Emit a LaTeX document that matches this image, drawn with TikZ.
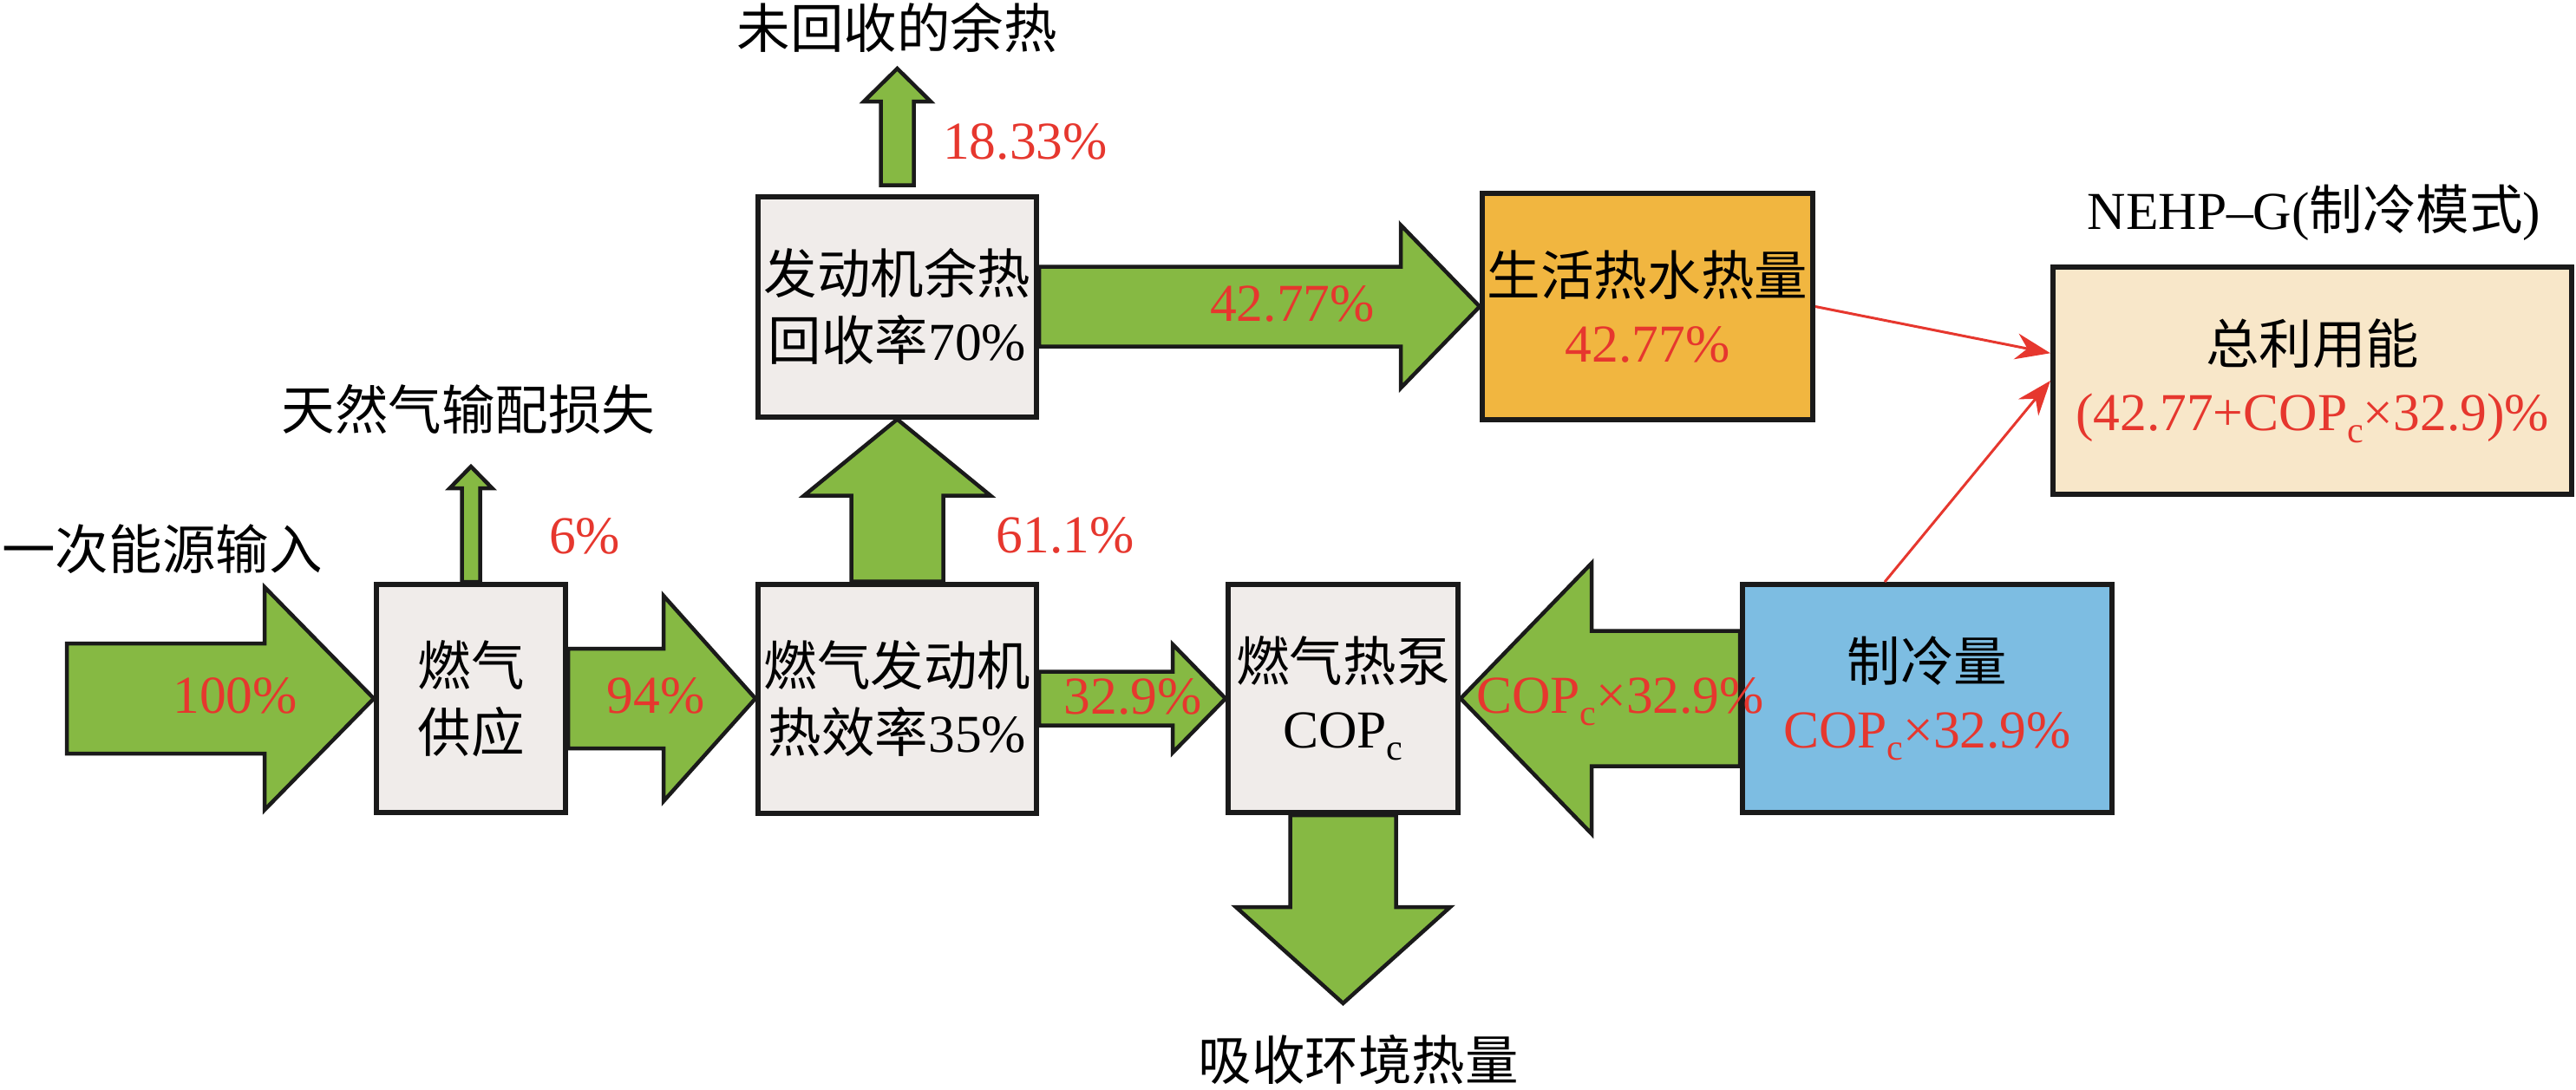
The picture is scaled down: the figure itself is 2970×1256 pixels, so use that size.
\documentclass[tikz,border=0pt]{standalone}
\usepackage{fontspec}
\setmainfont{Liberation Serif}
\newfontfamily\cjk{Noto Sans CJK SC}
\usepackage{xcolor}
\definecolor{flowGreen}{HTML}{86B943}
\definecolor{boxGray}{HTML}{F0ECEA}
\definecolor{boxLine}{HTML}{1A1A1A}
\definecolor{hotOrange}{HTML}{F1B640}
\definecolor{coolBlue}{HTML}{7DBDE2}
\definecolor{sumBeige}{HTML}{F8E7C9}
\definecolor{pctRed}{HTML}{E6372E}
\usepackage{tikz}
\usetikzlibrary{arrows.meta,positioning,calc,backgrounds}

\newcommand{\bodysize}{\fontsize{17.5}{22}\selectfont}
\newcommand{\copc}{COP\raisebox{-4pt}{\fontsize{12}{12}\selectfont c}}
% block arrow: from, to, shaft half width, head half width, head length
\newcommand{\flowarrow}[5]{%
    \coordinate (fa-base) at ($(#2)!#5!(#1)$);
    \draw[flow] ($(#1)!#3!90:(#2)$) -- ($(fa-base)!#3!90:(#2)$)
        -- ($(fa-base)!#4!90:(#2)$) -- (#2) -- ($(fa-base)!#4!-90:(#2)$)
        -- ($(fa-base)!#3!-90:(#2)$) -- ($(#1)!#3!-90:(#2)$) -- cycle;
}

\tikzset{
    flowbox/.style={
        draw=boxLine,
        fill=boxGray,
        rectangle,
        line width=0.6mm,
        align=center,
        inner sep=0pt,
        font=\bodysize
    },
    flow/.style={
        draw=boxLine,
        fill=flowGreen,
        line width=0.45mm,
        line join=miter
    },
    sumline/.style={
        -{Stealth[length=4mm,width=3mm]},
        line width=0.3mm,
        color=pctRed
    },
    pct/.style={
        font=\bodysize,
        text=pctRed,
        inner sep=0pt,
        anchor=base
    },
    caption/.style={
        font=\bodysize,
        inner sep=0pt
    }
}

\begin{document}
\begin{tikzpicture}[x=0.1mm, y=-0.1mm]
    \useasboundingbox (0,0) rectangle (2970,1256);

    % Gas engine chain
    \node[flowbox, minimum width=21.8mm, minimum height=26.3mm] (gas) at (543,805.5)
        {{\cjk 燃气}\\{\cjk 供应}};
    \node[flowbox, minimum width=32.1mm, minimum height=26.4mm, right=21.6mm of gas]
        (engine) {{\cjk 燃气发动机}\\{\cjk 热效率}35\%};
    \node[flowbox, minimum width=32.1mm, minimum height=25.4mm, above=18.7mm of engine]
        (waste) {{\cjk 发动机余热}\\{\cjk 回收率}70\%};
    \node[flowbox, minimum width=26.5mm, minimum height=26.3mm, right=21.5mm of engine]
        (heatpump) {{\cjk 燃气热泵}\\\copc};

    % Useful outputs
    \node[flowbox, fill=hotOrange, minimum width=38.1mm, minimum height=26.1mm,
        right=50.8mm of waste] (hotwater) {{\cjk 生活热水热量}\\{\color{pctRed}42.77\%}};
    \node[flowbox, fill=coolBlue, minimum width=42.6mm, minimum height=26.3mm,
        right=32.2mm of heatpump] (cooling) {{\cjk 制冷量}\\{\color{pctRed}\copc×32.9\%}};
    \node[flowbox, fill=sumBeige, minimum width=59.8mm, minimum height=26.2mm] (total)
        at (2666,439) {{\cjk 总利用能}\\{\color{pctRed}(42.77+\copc×32.9)\%}};

    % Captions
    \node[caption] (inputText) at (187,633) {\cjk 一次能源输入};
    \node[caption] (lossText) at (540,472) {\cjk 天然气输配损失};
    \node[caption] (ventText) at (1034,32) {\cjk 未回收的余热};
    \node[caption] (modeText) at (2668,245) {NEHP--G({\cjk 制冷模式})};
    \node[caption] (ambientText) at (1566,1222) {\cjk 吸收环境热量};

    % Free ends
    \coordinate (inputTail) at (77,805.5);
    \coordinate (lossTip) at (543,538);
    \coordinate (ventTail) at ($(waste.north)+(0,-10)$);
    \coordinate (ventTip) at (1034.5,79);
    \coordinate (ambientTip) at (1548.5,1157);

    % Energy flows
    \begin{pgfonlayer}{background}
        \flowarrow{inputTail}{gas.west}{6.35mm}{12.85mm}{12.6mm}
        \flowarrow{gas.east}{engine.west}{5.75mm}{11.85mm}{10.6mm}
        \flowarrow{gas.north}{lossTip}{1.05mm}{2.45mm}{2.5mm}
        \flowarrow{engine.east}{heatpump.west}{3.1mm}{6.25mm}{6.1mm}
        \flowarrow{engine.north}{waste.south}{5.3mm}{10.75mm}{8.8mm}
        \flowarrow{ventTail}{ventTip}{1.9mm}{3.85mm}{3.8mm}
        \flowarrow{waste.east}{hotwater.west}{4.6mm}{9.4mm}{9.1mm}
        \flowarrow{cooling.west}{heatpump.east}{7.8mm}{15.6mm}{15.1mm}
        \flowarrow{heatpump.south}{ambientTip}{6.1mm}{12.35mm}{11.1mm}
    \end{pgfonlayer}

    % Percentages
    \node[pct] (p100) at (271,822) {100\%};
    \node[pct] (p94) at (756,822) {94\%};
    \node[pct] (p6) at (674,638) {6\%};
    \node[pct] (p611) at (1228,637) {61.1\%};
    \node[pct] (p1833) at (1182,183) {18.33\%};
    \node[pct] (p4277) at (1490,370) {42.77\%};
    \node[pct] (p329) at (1306,823) {32.9\%};
    \node[pct] (pcool) at (1868,822) {\copc×32.9\%};

    % Sum of useful energy
    \draw[sumline] (hotwater.east) -- (total.174);
    \draw[sumline] (cooling.110) -- (total.west);
\end{tikzpicture}
\end{document}
